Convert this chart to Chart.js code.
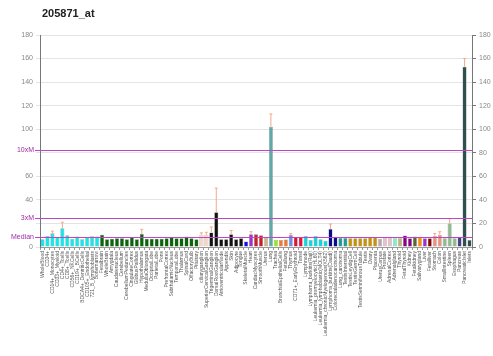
<!DOCTYPE html>
<html>
<head>
<meta charset="utf-8">
<script src="https://cdn.jsdelivr.net/npm/chart.js@4.4.1/dist/chart.umd.min.js"></script>
<style>
  html, body { margin: 0; padding: 0; background: #fff; }
</style>
</head>
<body>
<canvas id="exprChart" width="493" height="356"></canvas>
<script>
// probe set and sample names
const probeSet = '205871_at';
const tissues = [
    'WholeBlood', 'CD34+', 'CD14+_Monocytes', 'CD33+_Myeloid', 'CD4+_Tcells', 'CD8+_Tcells',
    'CD56+_NKCells', 'CD19+_BCells', 'BDCA4+_DentriticCells', 'CD105+_Endothelial', '721_B_lymphoblasts', 'Bonemarrow',
    'Fetalbrain', 'WholeBrain', 'Amygdala', 'Caudatenucleus', 'Cerebellum', 'CerebellumPeduncles',
    'CingulateCortex', 'GlobusPallidus', 'Hypothalamus', 'MedullaOblongata', 'OccipitalLobe', 'ParietalLobe',
    'Pons', 'PrefrontalCortex', 'SubthalamicNucleus', 'TemporalLobe', 'Thalamus', 'SpinalCord',
    'OlfactoryBulb', 'Pituitary', 'ciliaryganglion', 'SuperiorCervicalGanglion', 'TrigeminalGanglion', 'DorsalRootGanglion',
    'AtrioventricularNode', 'Appendix', 'Skin', 'Adipocyte', 'Tongue', 'SkeletalMuscle',
    'Heart', 'CardiacMyocytes', 'SmoothMuscle', 'Uterus', 'Lung', 'Trachea',
    'BronchialEpithelialCells', 'Fetallung', 'Thymus', 'CD71+_EarlyErythroid', 'Tonsil', 'Lymphnode',
    'Lymphoma_burkitts(Raji)', 'Leukemia_promyelocytic(HL60)', 'Leukemia_lymphoblastic(MOLT4)', 'Leukemia_chronicMyelogenous(K562)', 'Lymphoma_burkitts(Daudi)', 'Colorectaladenocarcinoma',
    'Lung_carcinoma', 'TestisInterstitial', 'TestisLeydigCell', 'TestisGermCell', 'TestisSeminiferousTubule', 'Testis',
    'Ovary', 'Placenta', 'UterusCorpus', 'Prostate', 'AdrenalCortex', 'Adrenalgland',
    'Thyroid', 'FetalThyroid', 'Kidney', 'Fetalkidney', 'Salivarygland', 'Liver',
    'Fetalliver', 'Stomach', 'Colon', 'SmallIntestine', 'Spleen', 'Esophagus',
    'Pancreas', 'PancreaticIslet', 'Islets'
];

// expression values (bar heights) and top of error bars
const expression = [
    6.6, 9.4, 11.7, 8.3, 16, 10, 7.1, 8.9, 6.6, 8.3, 9.1, 9,
    10.3, 6.6, 7.1, 7.4, 7.4, 6.6, 8.3, 6.6, 11.1, 7.1, 7.1, 7.1, 6.9, 7.4, 8.3, 7.4, 7.4, 8.9, 7.4, 6.6,
    10.3, 10.3,
    12.3, 29.4, 6.6, 6.6, 10.9, 6.6, 7.4,
    4.6, 10.9, 10.9, 10, 8, 102, 6, 6, 6.4, 10.3, 8, 8.3,
    9.4, 6, 9.4, 6.6, 5.4, 15.2, 8.6, 7.6, 7.6,
    7.4, 7.4, 7.4, 7.4, 8.3, 8,
    7.1, 8, 8, 7.4, 7.4, 9.7, 7.4, 9, 8.3, 7.4, 7.4, 9.4, 10.5,
    7.4, 20, 7.4, 8, 153, 6
];
const errorTop = {2: 13.5, 4: 21, 20: 15, 32: 12, 33: 12.5, 34: 17, 35: 50, 38: 14, 42: 13,
    46: 113, 50: 11.5, 58: 19.5, 79: 11.5, 80: 13, 82: 24, 85: 160};

const median = 8.1;
const threeXM = 24.4;
const tenXM = 82.5;
const yMax = 180;
const yStep = 20;

// colour runs by tissue group
const groupRuns = [
    ['#19E6EA', 12], ['#0A640A', 20], ['#F3D6C8', 2], ['#111111', 7], ['#1010EE', 1], ['#9A33CC', 1],
    ['#C8202A', 2], ['#D2B48C', 1], ['#62A8A8', 1], ['#86F21A', 1], ['#EE7A30', 2], ['#6A8FE6', 1],
    ['#DC143C', 2], ['#12D5DD', 5], ['#0A0A8C', 2], ['#1E9C9C', 2], ['#C8930C', 6], ['#B4A9B4', 1],
    ['#E6C0CA', 2], ['#7FEFCF', 1], ['#BDB76B', 1], ['#8B008B', 2], ['#556B2F', 1], ['#FF8C00', 1],
    ['#9932CC', 1], ['#8B0000', 1], ['#EE9080', 2], ['#8FBC8F', 3], ['#483D8B', 1], ['#2F4F4F', 2]
];
const barColors = groupRuns.flatMap(([c, n]) => Array(n).fill(c));

const overlay = {
    id: 'overlay',
    afterDatasetsDraw(chart) {
        const {ctx, chartArea, scales} = chart;
        const y = scales.y;
        const meta = chart.getDatasetMeta(0);
        ctx.save();
        // error bars
        ctx.strokeStyle = '#F2A98A';
        ctx.lineWidth = 1;
        Object.keys(errorTop).forEach(k => {
            const i = +k;
            const bar = meta.data[i];
            if (!bar) return;
            const top = y.getPixelForValue(errorTop[i]);
            const base = y.getPixelForValue(expression[i]);
            ctx.beginPath();
            ctx.moveTo(bar.x, base);
            ctx.lineTo(bar.x, top);
            ctx.moveTo(bar.x - 1.5, top);
            ctx.lineTo(bar.x + 1.5, top);
            ctx.stroke();
        });
        // threshold lines
        ctx.strokeStyle = 'rgb(190,70,195)';
        ctx.fillStyle = '#A22AA8';
        ctx.lineWidth = 1;
        ctx.font = '7px "Liberation Sans", Arial, sans-serif';
        ctx.textAlign = 'right';
        ctx.textBaseline = 'middle';
        [[tenXM, '10xM'], [threeXM, '3xM'], [median, 'Median']].forEach(([v, label]) => {
            const py = Math.round(y.getPixelForValue(v)) + 0.5;
            ctx.beginPath();
            ctx.moveTo(chartArea.left - 5, py);
            ctx.lineTo(chartArea.right, py);
            ctx.stroke();
            ctx.fillText(label, chartArea.left - 6, py);
        });
        ctx.restore();
    },
    afterDraw(chart) {
        const ctx = chart.ctx;
        ctx.save();
        ctx.fillStyle = '#222';
        ctx.font = 'bold 11px "Liberation Sans", Arial, sans-serif';
        ctx.textBaseline = 'middle';
        ctx.fillText(probeSet, 42, 14);
        ctx.restore();
    }
};

const tickFont = {family: '"Liberation Sans", Arial, sans-serif', size: 7};

new Chart(document.getElementById('exprChart').getContext('2d'), {
    type: 'bar',
    data: {
        labels: tissues,
        datasets: [{
            data: expression,
            backgroundColor: barColors,
            borderColor: 'rgba(40,40,40,0.5)',
            borderWidth: 0.5,
            barPercentage: 0.82,
            categoryPercentage: 1.0
        }]
    },
    options: {
        responsive: false,
        animation: false,
        layout: {padding: {top: 35, left: 0, right: 0, bottom: 0}},
        plugins: {legend: {display: false}, tooltip: {enabled: false}, title: {display: false}},
        scales: {
            x: {
                grid: {display: true, drawOnChartArea: false, tickLength: 3, color: '#999'},
                border: {color: '#999'},
                ticks: {
                    autoSkip: false, maxRotation: 90, minRotation: 90, padding: 1,
                    font: {family: '"Liberation Sans", Arial, sans-serif', size: 5}, color: '#555'
                },
                afterFit(scale) { scale.height = 109; }
            },
            y: {
                min: 0, max: yMax,
                grid: {color: '#E4E4E4', tickLength: 4},
                border: {color: '#777'},
                ticks: {
                    stepSize: yStep, font: tickFont, color: '#888', padding: 3,
                    callback: v => (v === 80 || v === 20) ? '' : v
                },
                afterFit(scale) { scale.width = 40; }
            },
            y2: {
                position: 'right', min: 0, max: yMax,
                grid: {drawOnChartArea: false, tickLength: 4, color: '#777'},
                border: {color: '#777'},
                ticks: {stepSize: yStep, font: tickFont, color: '#888', padding: 3},
                afterFit(scale) { scale.width = 21; }
            }
        }
    },
    plugins: [overlay]
});
</script>
</body>
</html>
